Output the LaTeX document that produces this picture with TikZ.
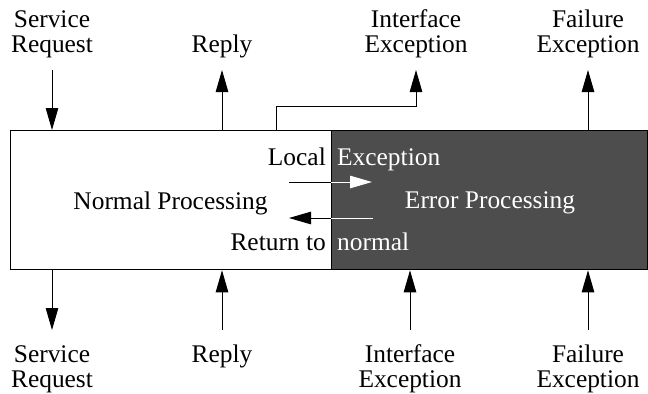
\documentclass[tikz,border=0pt]{standalone}
\usepackage{fontspec}
\setmainfont{Liberation Serif}
\usetikzlibrary{arrows.meta}
\definecolor{darkbox}{HTML}{4D4D4D}
\tikzset{
  lbl/.style={font=\fontsize{25.5}{25}\selectfont, inner sep=0pt, align=center, anchor=base},
  txt/.style={font=\fontsize{25.5}{25}\selectfont, inner sep=0pt},
  conn/.style={line width=1bp, -{Triangle[length=22bp,width=12.5bp]}},
  plain/.style={line width=1bp},
  boxstyle/.style={draw=black, line width=1.3bp, inner sep=0pt, anchor=north west}
}
\begin{document}
\begin{tikzpicture}[x=1bp,y=-1bp]
\useasboundingbox (0,0) rectangle (648,393);
% boxes
\node[boxstyle, fill=white, minimum width=321bp, minimum height=139bp] (np) at (10,130) {};
\node[boxstyle, fill=darkbox, minimum width=316bp, minimum height=139bp] (ep) at (331,130) {};
% inner texts
\node[txt, anchor=base] (npt) at (170.5,209) {Normal Processing};
\node[txt, anchor=base, text=white] (ept) at (490,208) {Error Processing};
\node[txt, anchor=base east] (loc) at (326,165) {Local};
\node[txt, anchor=base west, text=white] (exc) at (337,165) {Exception};
\node[txt, anchor=base east] (ret) at (326,250) {Return to};
\node[txt, anchor=base west, text=white] (nor) at (337,250) {normal};
% inner arrows
\coordinate (la) at (289,182);
\coordinate (lb) at (372,182);
\coordinate (ra) at (373,218);
\coordinate (rb) at (289,218);
\draw[plain] (la) -- (la -| ep.west);
\draw[conn, white] (la -| ep.west) -- (lb);
\draw[plain, white] (ra) -- (ra -| ep.west);
\draw[conn] (ra -| ep.west) -- (rb);
% top labels (base anchor = last line baseline)
\node[lbl] (tsr) at (52,52) {Service\\Request};
\node[lbl] (trp) at (222,52) {Reply};
\node[lbl] (tie) at (416,52) {Interface\\Exception};
\node[lbl] (tfe) at (588,52) {Failure\\Exception};
% bottom labels
\node[lbl] (bsr) at (52,387) {Service\\Request};
\node[lbl] (brp) at (222,362) {Reply};
\node[lbl] (bie) at (410,387) {Interface\\Exception};
\node[lbl] (bfe) at (588,387) {Failure\\Exception};
% top arrows
\coordinate (tsra) at (52,70);
\coordinate (trpa) at (222,70);
\coordinate (tiea) at (416,70);
\coordinate (tfea) at (588,70);
\coordinate (kink) at (276,106);
\draw[conn] (tsra) -- (tsra |- np.north);
\draw[conn] (trpa |- np.north) -- (trpa);
\draw[conn] (kink |- np.north) -- (kink) -| (tiea);
\draw[conn] (tfea |- ep.north) -- (tfea);
% bottom arrows
\coordinate (bsra) at (52,330);
\coordinate (brpa) at (222,330);
\coordinate (biea) at (410,330);
\coordinate (bfea) at (588,330);
\draw[conn] (bsra |- np.south) -- (bsra);
\draw[conn] (brpa) -- (brpa |- np.south);
\draw[conn] (biea) -- (biea |- ep.south);
\draw[conn] (bfea) -- (bfea |- ep.south);
\end{tikzpicture}
\end{document}
